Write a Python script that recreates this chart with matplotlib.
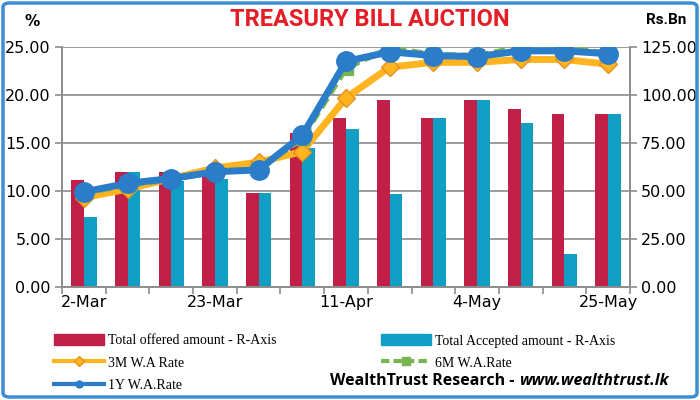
import matplotlib.pyplot as plt
from matplotlib.patches import FancyBboxPatch, Patch
from matplotlib.lines import Line2D
import numpy as np

# auction dates (weekly)
dates = ["2-Mar", "9-Mar", "16-Mar", "23-Mar", "30-Mar", "5-Apr", "11-Apr",
         "20-Apr", "27-Apr", "4-May", "11-May", "18-May", "25-May"]
shown = ["2-Mar", "23-Mar", "11-Apr", "4-May", "25-May"]

# Rs.Bn (right axis)
offered = [55.5, 60.0, 60.0, 58.0, 49.0, 80.0, 88.0, 97.5, 88.0, 97.5, 92.5, 90.0, 90.0]
accepted = [36.5, 60.0, 55.0, 56.5, 49.0, 72.5, 82.5, 48.5, 88.0, 97.5, 85.5, 17.0, 90.0]

# % (left axis)
rate_3m = [9.3, 10.2, 11.3, 12.4, 13.0, 14.1, 19.7, 22.9, 23.4, 23.4, 23.7, 23.7, 23.2]
rate_6m = [9.8, 10.6, 11.2, 12.0, 12.2, 15.5, 22.8, 24.9, 24.2, 24.1, 25.0, 25.0, 24.3]
rate_1y = [9.9, 10.8, 11.3, 12.0, 12.2, 15.8, 23.5, 24.5, 24.1, 24.0, 24.6, 24.6, 24.3]

RED = "#c01f48"
TEAL = "#109ec4"
ORANGE = "#ffb420"
GREEN = "#78b452"
BLUE = "#2b7cc9"

plt.rcParams['font.family'] = ['DejaVu Sans']

fig = plt.figure(figsize=(7, 4), dpi=100)
fig.patch.set_facecolor("white")

ax = fig.add_axes([62/700, 1-287/400, 568/700, 240/400])
x = np.arange(len(dates))
w = 0.29
ax.bar(x - w/2, offered, w, color=RED, zorder=2)
ax.bar(x + w/2, accepted, w, color=TEAL, zorder=2)
ax.set_ylim(0, 125)
ax.grid(axis="y", color="#8c8c8c", linewidth=1.2, zorder=0)
ax.set_axisbelow(True)
ax.set_xlim(-0.5, len(dates) - 0.5)

ax2 = ax.twinx()
# twinx resets the original axis to the left, so set sides afterwards
ax.yaxis.tick_right()
ax.yaxis.set_label_position("right")
ax2.yaxis.tick_left()
ax2.yaxis.set_label_position("left")

ax.set_yticks(np.arange(0, 126, 25))
ax.set_yticklabels(["%.2f" % v for v in np.arange(0, 126, 25)], fontsize=11.5)
ax2.set_ylim(0, 25)
ax2.set_yticks(np.arange(0, 26, 5))
ax2.set_yticklabels(["%.2f" % v for v in np.arange(0, 26, 5)], fontsize=11.5)

ax2.plot(x, rate_3m, color=ORANGE, lw=5, marker="D", ms=9, mfc=ORANGE,
         mec="#e8901a", mew=1, zorder=3)
ax2.plot(x, rate_6m, color=GREEN, lw=4, ls=(0, (2, 1)), marker="s", ms=10,
         mfc=GREEN, mec=GREEN, zorder=4)
ax2.plot(x, rate_1y, color=BLUE, lw=5, marker="o", ms=14, mfc=BLUE,
         mec=BLUE, zorder=5)

# category boundary ticks and date labels
ax.set_xticks(np.arange(-0.5, len(dates), 1), minor=True)
ax.set_xticks([dates.index(d) for d in shown])
ax.set_xticklabels(shown, fontsize=11.5)
ax.tick_params(axis="x", which="major", length=0, pad=6)
ax.tick_params(axis="x", which="minor", length=5, color="#8c8c8c", width=1.2)
ax.tick_params(axis="y", length=5, color="#8c8c8c", width=1.2, pad=3)
ax2.tick_params(axis="y", length=5, color="#8c8c8c", width=1.2, pad=3)

for a in (ax, ax2):
    a.spines["top"].set_visible(False)
    for s in ("left", "right", "bottom"):
        a.spines[s].set_color("#8c8c8c")
        a.spines[s].set_linewidth(1.2)

# titles
fig.text(370/700, 1-20/400, "TREASURY BILL AUCTION", color="#e41e26",
         fontsize=17, fontweight="bold", family="Roboto",
         ha="center", va="center")
fig.text(32/700, 1-22/400, "%", fontsize=11, fontweight="bold", ha="center", va="center")
fig.text(666/700, 1-20/400, "Rs.Bn", fontsize=11, fontweight="bold",
         family="Roboto", ha="center", va="center")

# legend
leg_font = {"family": "Liberation Serif", "size": 10}
h_off = Patch(color=RED)
h_acc = Patch(color=TEAL)
h_3m = Line2D([], [], color=ORANGE, lw=3, marker="D", ms=5, mfc=ORANGE, mec="#e8901a")
h_6m = Line2D([], [], color=GREEN, lw=3, ls=(0, (2, 1)), marker="s", ms=6, mfc=GREEN)
h_1y = Line2D([], [], color=BLUE, lw=3, marker="o", ms=5, mfc=BLUE)
leg1 = fig.legend([h_off, h_3m, h_1y],
                  ["Total offered amount - R-Axis", "3M W.A Rate", "1Y W.A.Rate"],
                  loc="upper left", bbox_to_anchor=(47/700, 1-327/400), frameon=False,
                  prop=leg_font, handlelength=3.6, handleheight=0.9, labelspacing=0.62,
                  handletextpad=0.3, borderpad=0)
leg2 = fig.legend([h_acc, h_6m],
                  ["Total Accepted amount - R-Axis", "6M W.A.Rate"],
                  loc="upper left", bbox_to_anchor=(374/700, 1-327/400), frameon=False,
                  prop=leg_font, handlelength=3.6, handleheight=0.9, labelspacing=0.62,
                  handletextpad=0.3, borderpad=0)

t1 = fig.text(330/700, 1-381/400, "WealthTrust Research - ", fontsize=11.5,
              fontweight="bold", family="Open Sans", va="center", ha="left")
fig.canvas.draw()
bb = t1.get_window_extent()
fig.text(bb.x1/700, 1-381/400, "www.wealthtrust.lk", fontsize=11.5,
         fontweight="bold", style="italic", family="Open Sans", va="center", ha="left")

# blue frame
fig.patches.append(FancyBboxPatch((3/700, 3/400), 694/700, 394/400,
                                  boxstyle="round,pad=0,rounding_size=0.01",
                                  transform=fig.transFigure, fill=False,
                                  edgecolor="#3a8fd4", linewidth=2.5))

fig.savefig("out.png", dpi=100)
